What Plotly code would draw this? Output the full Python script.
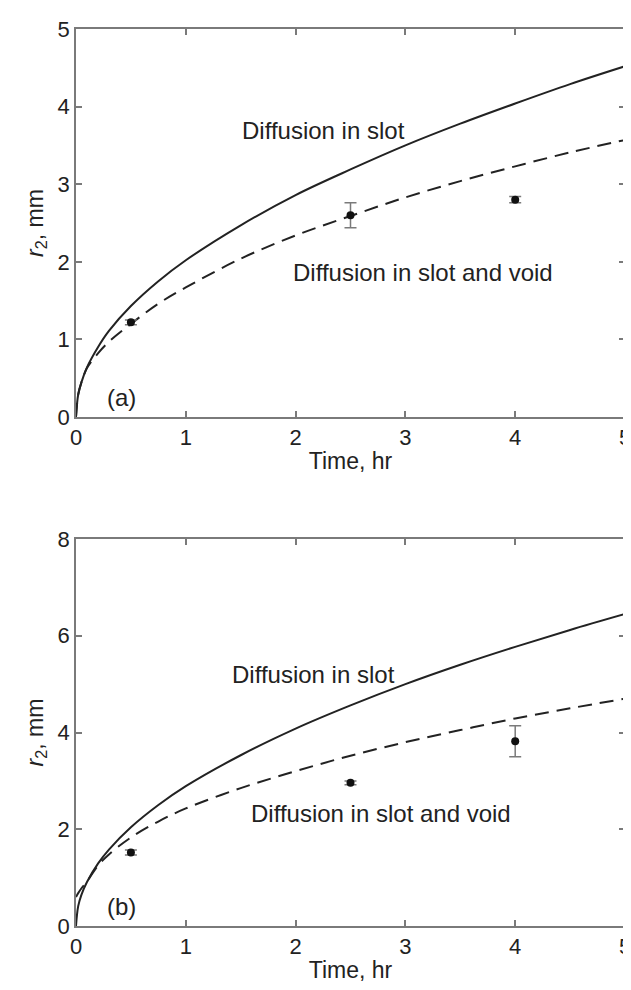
import plotly.graph_objects as go
from plotly.subplots import make_subplots

# ---- data ----
t_model = [0, 0.02, 0.05, 0.1, 0.2, 0.3, 0.5, 0.75, 1, 1.5, 2, 2.5, 3, 3.5, 4, 4.5, 5]

a_slot = [0, 0.29, 0.45, 0.64, 0.90, 1.11, 1.43, 1.75, 2.02, 2.47, 2.86, 3.19, 3.50, 3.78, 4.04, 4.29, 4.52]
a_void = [0, 0.29, 0.45, 0.63, 0.82, 0.97, 1.20, 1.46, 1.67, 2.04, 2.34, 2.59, 2.83, 3.04, 3.23, 3.41, 3.57]

b_slot = [0, 0.41, 0.65, 0.91, 1.29, 1.58, 2.04, 2.50, 2.89, 3.53, 4.08, 4.56, 5.00, 5.40, 5.77, 6.12, 6.45]
b_void = [0.60, 0.68, 0.78, 0.92, 1.25, 1.48, 1.83, 2.16, 2.43, 2.85, 3.20, 3.52, 3.80, 4.05, 4.29, 4.50, 4.70]

t_exp = [0.5, 2.5, 4.0]
a_exp = [1.22, 2.60, 2.80]
a_err = [0.03, 0.16, 0.04]
b_exp = [1.52, 2.96, 3.82]
b_err = [0.05, 0.04, 0.32]

x_ticks = [0, 1, 2, 3, 4, 5]
a_ticks = [0, 1, 2, 3, 4, 5]
b_ticks = [0, 2, 4, 6, 8]

FONT = "Liberation Sans, Arial, Helvetica, sans-serif"
INK = "#222222"
AXC = "#7a7a7a"

W, H = 631, 990
mt, mb, ml, mr = 21, 72, 68, 8
ph = H - mt - mb
y_top0, y_top1 = 409, 21      # pixel rows of top panel (bottom, top)
y_bot0, y_bot1 = H - mb, 531  # pixel rows of bottom panel (bottom, top)
top_dom = [(H - mb - y_top0) / ph, 1.0]
bot_dom = [0.0, (H - mb - y_bot1) / ph]

fig = make_subplots(rows=2, cols=1)

def add_panel(row, slot, void, ye, err):
    fig.add_trace(go.Scatter(x=t_model, y=slot, mode="lines", line=dict(color=INK, width=2),
                             line_shape="spline", showlegend=False), row=row, col=1)
    fig.add_trace(go.Scatter(x=t_model, y=void, mode="lines",
                             line=dict(color=INK, width=2, dash="14px,8px"),
                             line_shape="spline", showlegend=False), row=row, col=1)
    fig.add_trace(go.Scatter(x=t_exp, y=ye, mode="markers",
                             marker=dict(color="#111111", size=8),
                             error_y=dict(type="data", array=err, color=AXC, thickness=1.5, width=6),
                             showlegend=False), row=row, col=1)

add_panel(1, a_slot, a_void, a_exp, a_err)
add_panel(2, b_slot, b_void, b_exp, b_err)

axis_common = dict(showline=True, linecolor=AXC, linewidth=1.5, mirror="ticks",
                   ticks="inside", ticklen=6, tickcolor=AXC, tickwidth=1.5,
                   showgrid=False, zeroline=False,
                   tickfont=dict(family=FONT, size=22, color=INK))

title_font = dict(family=FONT, size=23, color=INK)
fig.update_xaxes(**axis_common, range=[0, 5], tickvals=x_ticks,
                 title=dict(text="Time, hr", font=title_font, standoff=4))
fig.update_yaxes(**axis_common)
fig.update_yaxes(range=[0, 5], tickvals=a_ticks, domain=top_dom, row=1, col=1,
                 title=dict(text="<i>r</i><sub>2</sub>, mm", font=title_font, standoff=8))
fig.update_yaxes(range=[0, 8], tickvals=b_ticks, domain=bot_dom, row=2, col=1,
                 title=dict(text="<i>r</i><sub>2</sub>, mm", font=title_font, standoff=8))

ann_font = dict(family=FONT, size=24, color=INK)
notes = [
    ("x", "y", 1.49, 3.69, "Diffusion in slot"),
    ("x", "y", 1.96, 1.86, "Diffusion in slot and void"),
    ("x", "y", 0.26, 0.25, "(a)"),
    ("x2", "y2", 1.40, 5.19, "Diffusion in slot"),
    ("x2", "y2", 1.58, 2.32, "Diffusion in slot and void"),
    ("x2", "y2", 0.26, 0.40, "(b)"),
]
for xr, yr, xv, yv, txt in notes:
    fig.add_annotation(x=xv, y=yv, xref=xr, yref=yr, text=txt, showarrow=False,
                       xanchor="left", yanchor="middle", font=ann_font)

fig.update_layout(width=W, height=H, margin=dict(l=ml, r=mr, t=mt, b=mb),
                  paper_bgcolor="white", plot_bgcolor="white",
                  font=dict(family=FONT, color=INK))

fig.write_html("out.html")
